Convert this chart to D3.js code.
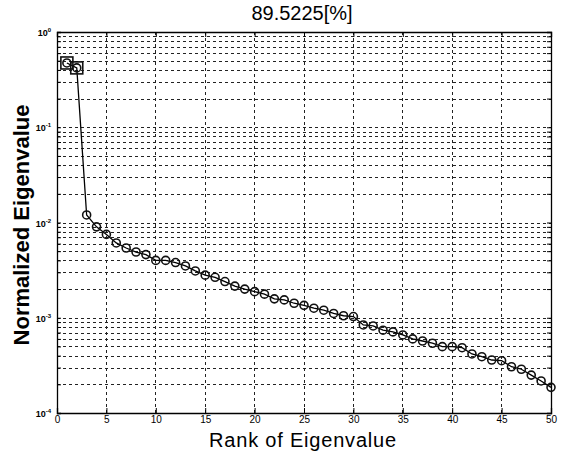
<!DOCTYPE html>
<html>
<head>
<meta charset="utf-8">
<script src="https://cdn.jsdelivr.net/npm/d3@7"></script>
<style>
body { margin: 0; background: #fff; }
svg { font-family: Arial, "Liberation Sans", sans-serif; }
</style>
</head>
<body>
<svg></svg>
<script>
// eigenvalue rank and normalized value
var ranks = d3.range(1, 51)
var eigen = [
    0.473, 0.42, 0.0120, 0.0090, 0.0075, 0.0061, 0.0054, 0.0049, 0.0046, 0.0040,
    0.0040, 0.0038, 0.0035, 0.0031, 0.0028, 0.00266, 0.0024, 0.00215, 0.0020, 0.00188,
    0.00177, 0.00158, 0.00154, 0.00142, 0.00135, 0.00126, 0.0012, 0.00111, 0.00105, 0.00103,
    0.00084, 0.00082, 0.00074, 0.00071, 0.00066, 0.0006, 0.00057, 0.00054, 0.000497, 0.000497,
    0.000485, 0.000417, 0.00039, 0.00036, 0.000354, 0.000306, 0.000288, 0.00025, 0.000217, 0.000186
]
var squared = [1, 2]
var xTicks = [0, 5, 10, 15, 20, 25, 30, 35, 40, 45, 50]
var yExps = [0, -1, -2, -3, -4]
var title = "89.5225[%]"
var xTitle = "Rank of Eigenvalue"
var yTitle = "Normalized Eigenvalue"

function main(){
    var width = 562
    var height = 455
    var left = 57, top = 32, right = 551, bottom = 413
    var svg = d3.select('svg').attr("width", width).attr("height", height)

    var data = ranks.map((r,i) => ({rank:r, value:eigen[i]}))

    var xScale = d3.scaleLinear().domain([0, 50]).range([left, right])
    var yScale = d3.scaleLog().domain([1e-4, 1]).range([bottom, top])

    // minor log ticks for grid
    var minor = []
    yExps.slice(0, 4).forEach(e => {
        for (var k = 1; k < 10; k++) minor.push(k * Math.pow(10, e - 1))
    })
    minor.push(1)

    var grid = svg.append("g").attr("class", "grid")
        .attr("stroke", "#222").attr("stroke-width", 1)
        .attr("stroke-dasharray", "3,3").attr("shape-rendering", "crispEdges")
    grid.selectAll(".gx").data(xTicks.slice(1, -1)).join("line")
        .attr("x1", d=>xScale(d)).attr("x2", d=>xScale(d))
        .attr("y1", top).attr("y2", bottom)
    grid.selectAll(".gy").data(minor.filter(d => d > 1e-4 && d < 1)).join("line")
        .attr("x1", left).attr("x2", right)
        .attr("y1", d=>Math.round(yScale(d))+0.5).attr("y2", d=>Math.round(yScale(d))+0.5)

    // axes, ticks inward
    var xAxis = d3.axisBottom(xScale).tickValues(xTicks).tickSize(-5).tickPadding(3).tickFormat(d3.format("d"))
    svg.append("g").attr("class", "axis xAxis")
        .attr("transform", "translate(0," + bottom + ")")
        .call(xAxis)
    svg.append("g").attr("transform", "translate(0," + top + ")")
        .call(d3.axisTop(xScale).tickValues(xTicks).tickSize(-5).tickFormat(""))

    var yAxis = d3.axisLeft(yScale).tickValues(minor).tickSize(-4).tickFormat("")
    svg.append("g").attr("class", "axis yAxis")
        .attr("transform", "translate(" + left + ",0)")
        .call(yAxis)
    svg.append("g").attr("transform", "translate(" + right + ",0)")
        .call(d3.axisRight(yScale).tickValues(minor).tickSize(-4).tickFormat(""))

    svg.selectAll(".domain").attr("stroke", "#000").attr("stroke-width", 1.3)
    svg.selectAll(".tick line").attr("stroke", "#000")
    svg.selectAll(".xAxis text").attr("font-size", 10).attr("fill", "#000")
        .attr("font-family", "Arial, 'Liberation Sans', sans-serif")

    // y tick labels 10^e
    var yl = svg.append("g").attr("font-size", 9).attr("font-weight", "bold")
    yExps.forEach(e => {
        var t = yl.append("text").attr("x", left - 6).attr("y", yScale(Math.pow(10, e)) + 4)
            .attr("text-anchor", "end")
        t.append("tspan").text("10")
        t.append("tspan").attr("dy", -4).attr("font-size", 6).text(e)
    })

    // line and markers
    var line = d3.line().x(d=>xScale(d.rank)).y(d=>yScale(d.value))
    svg.append("path").datum(data)
        .attr("fill", "none").attr("stroke", "#000").attr("stroke-width", 1.3)
        .attr("d", line)
    svg.selectAll(".pt").data(data).join("circle").attr("class", "pt")
        .attr("cx", d=>xScale(d.rank)).attr("cy", d=>yScale(d.value)).attr("r", 4)
        .attr("fill", "none").attr("stroke", "#111").attr("stroke-width", 1.6)
    svg.selectAll(".sq").data(data.filter(d => squared.includes(d.rank))).join("rect").attr("class", "sq")
        .attr("x", d=>xScale(d.rank) - 6).attr("y", d=>yScale(d.value) - 6)
        .attr("width", 12).attr("height", 12)
        .attr("fill", "none").attr("stroke", "#111").attr("stroke-width", 1.6)

    // titles
    svg.append("text").attr("x", 302).attr("y", 20).attr("text-anchor", "middle")
        .attr("font-size", 20).text(title)
    svg.append("text").attr("x", 303).attr("y", 447).attr("text-anchor", "middle")
        .attr("font-size", 20).attr("letter-spacing", 0.8).text(xTitle)
    svg.append("text").attr("transform", "translate(29,225) rotate(-90)")
        .attr("text-anchor", "middle").attr("font-size", 22).attr("font-weight", "bold")
        .text(yTitle)
}
main()
</script>
</body>
</html>
